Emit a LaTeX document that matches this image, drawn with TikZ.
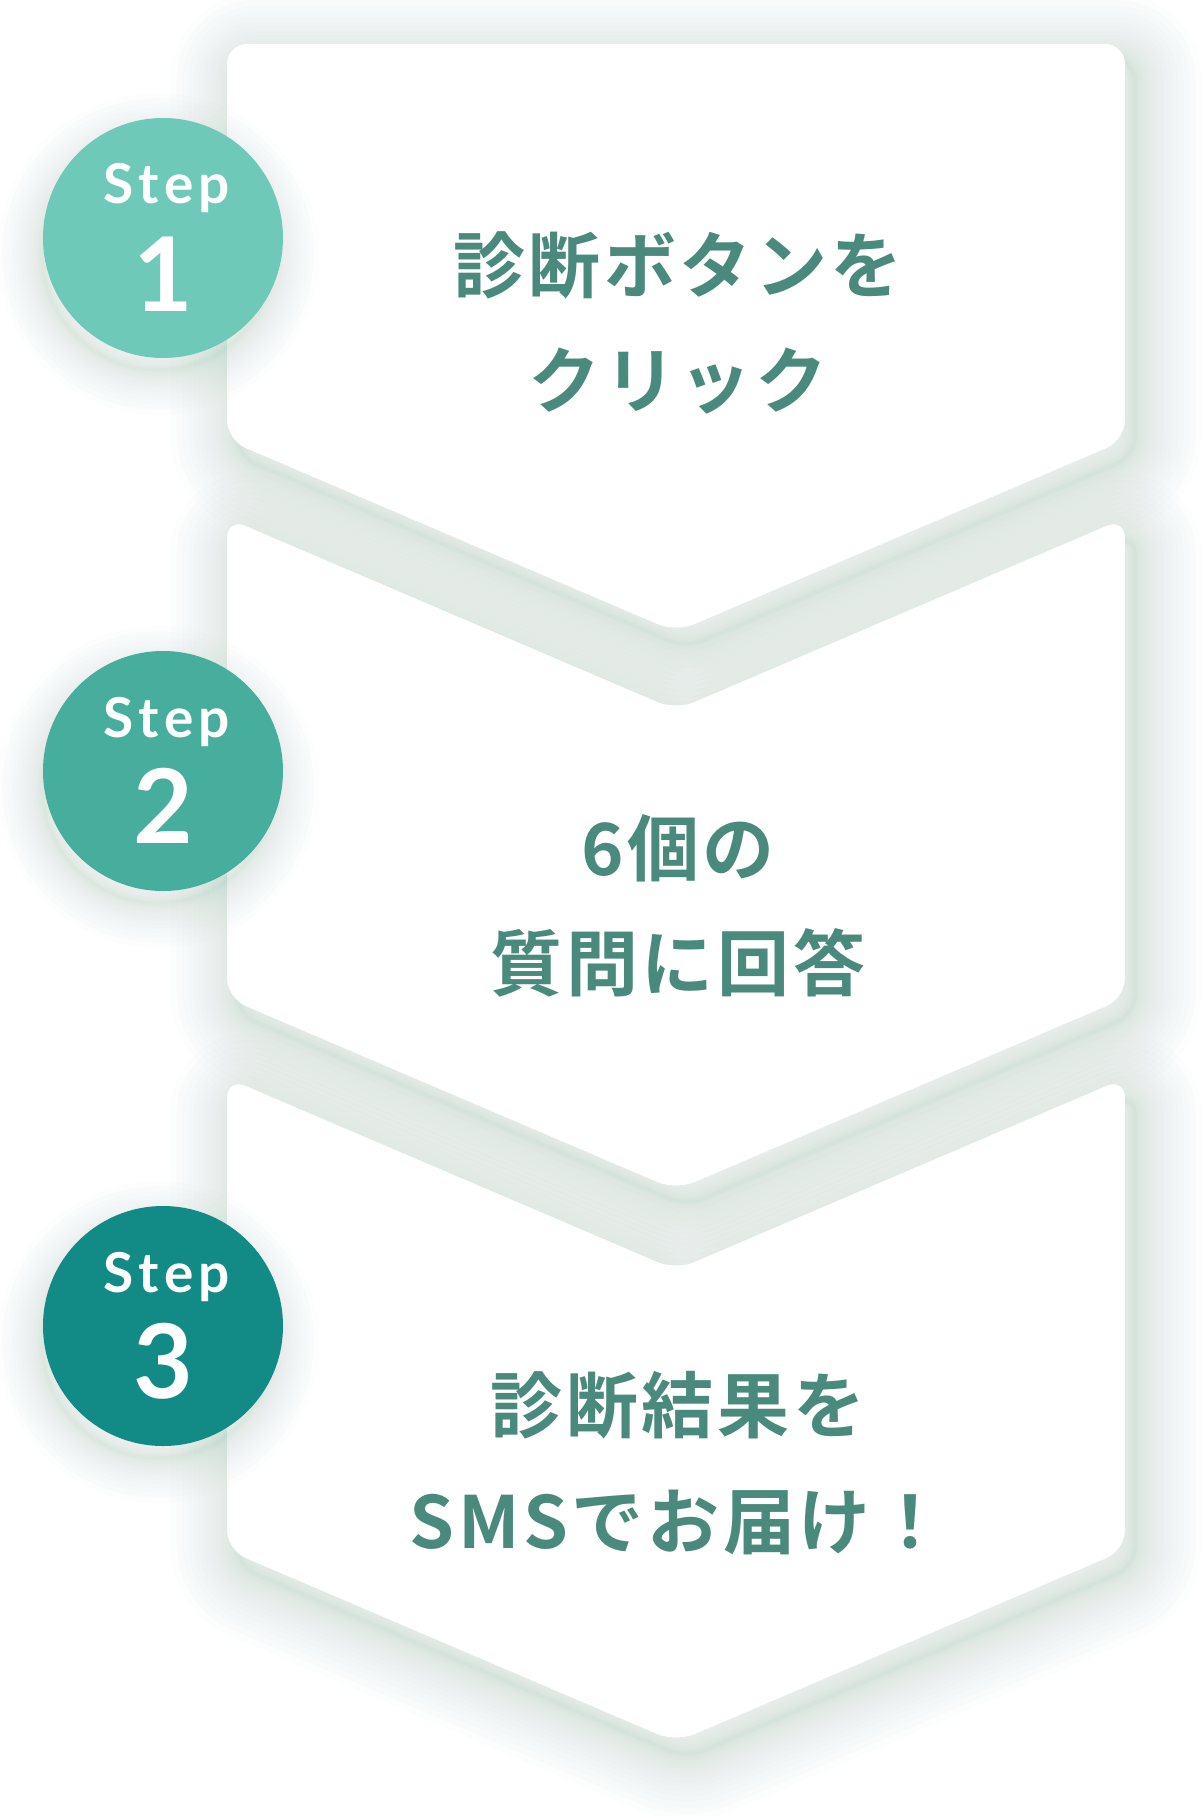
\documentclass[tikz,border=0pt]{standalone}
\usepackage{fontspec}
\newfontfamily\jp[LetterSpace=5,BoldFont={Noto Sans CJK JP Bold}]{Noto Sans CJK JP}
\newfontfamily\stepfont[LetterSpace=10]{Lato}
\newfontfamily\digitfont{Lato}
\definecolor{txtcol}{HTML}{4A8A7C}
\definecolor{circA}{HTML}{6FC9B9}
\definecolor{circB}{HTML}{47AE9E}
\definecolor{circC}{HTML}{128A86}
\definecolor{shadowcol}{HTML}{4C9A8C}
\begin{document}
\begin{tikzpicture}[x=1pt,y=-1pt,
  cardbody/.style={fill=white, rounded corners=20pt},
  cardshadow/.style={draw=shadowcol, draw opacity=0.013, line join=round, rounded corners=20pt},
  circshadow/.style={draw=shadowcol, draw opacity=0.012},
  stepdisc/.style={circle, minimum size=240pt, inner sep=0pt},
  jptext/.style={anchor=base, inner sep=0pt, text=txtcol, font={\jp\bfseries\fontsize{72pt}{80pt}\selectfont}},
  stepword/.style={anchor=base, inner sep=0pt, text=white, font={\stepfont\bfseries\fontsize{55pt}{60pt}\selectfont}},
  stepnum/.style={anchor=base, inner sep=0pt, text=white, font={\digitfont\bfseries\fontsize{103pt}{110pt}\selectfont}}
]
\fill[white] (0,0) rectangle (1202,1817);
\useasboundingbox (0,0) rectangle (1202,1817);

% card shadows (more strokes near the edge: quick fall-off)
\foreach \k in {1,...,20}{
  \pgfmathsetmacro\w{2*66*(\k/20)*(\k/20)+2}
  \begin{scope}[shift={(10,16)}]
    \draw[cardshadow, line width=\w pt] (227,44) -- (1125,44) -- (1125,440) -- (676,632) -- (227,440) -- cycle;
    \draw[cardshadow, line width=\w pt] (227,518) -- (676,710) -- (1125,518) -- (1125,998) -- (676,1190) -- (227,998) -- cycle;
    \draw[cardshadow, line width=\w pt] (227,1078) -- (676,1270) -- (1125,1078) -- (1125,1550) -- (676,1742) -- (227,1550) -- cycle;
  \end{scope}
}

% cards
\fill[cardbody] (227,44) -- (1125,44) -- (1125,440) -- (676,632) -- (227,440) -- cycle;
\fill[cardbody] (227,518) -- (676,710) -- (1125,518) -- (1125,998) -- (676,1190) -- (227,998) -- cycle;
\fill[cardbody] (227,1078) -- (676,1270) -- (1125,1078) -- (1125,1550) -- (676,1742) -- (227,1550) -- cycle;

% circle shadows
\foreach \k in {1,...,16}{
  \pgfmathsetmacro\w{2*44*(\k/16)*(\k/16)+2}
  \draw[circshadow, line width=\w pt] (158,254) circle[radius=116pt];
  \draw[circshadow, line width=\w pt] (158,787) circle[radius=116pt];
  \draw[circshadow, line width=\w pt] (158,1342) circle[radius=116pt];
}

% step discs
\node[stepdisc, fill=circA] (d1) at (163,238) {};
\node[stepdisc, fill=circB] (d2) at (163,771) {};
\node[stepdisc, fill=circC] (d3) at (163,1326) {};

\node[stepword] (s1) at (167,203) {Step};
\node[stepnum] (n1) at (163,311) {1};
\node[stepword] (s2) at (167,737) {Step};
\node[stepnum] (n2) at (163,843) {2};
\node[stepword] (s3) at (167,1292) {Step};
\node[stepnum] (n3) at (163,1398) {3};

% texts
\node[jptext] (a1) at (678,292) {診断ボタンを};
\node[jptext] (a2) at (678,407) {クリック};
\node[jptext] (b1) at (678,875) {6個の};
\node[jptext] (b2) at (678,990) {質問に回答};
\node[jptext] (c1) at (678,1432) {診断結果を};
\node[jptext] (c2) at (678,1548) {SMSでお届け！};
\end{tikzpicture}
\end{document}
